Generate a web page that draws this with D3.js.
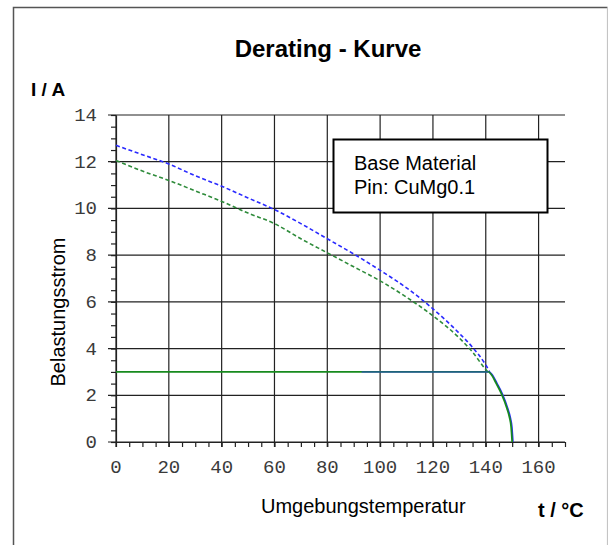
<!DOCTYPE html>
<html>
<head>
<meta charset="utf-8">
<script src="https://d3js.org/d3.v7.min.js"></script>
<style>
  body { margin: 0; background: #fff; }
  svg { display: block; }
  .axis path, .axis line { stroke: #222; stroke-width: 1.2; }
</style>
</head>
<body>
<svg id="chart" width="608" height="545"></svg>
<script>
// tick labels
var xTicks = [0, 20, 40, 60, 80, 100, 120, 140, 160];
var yTicks = [0, 2, 4, 6, 8, 10, 12, 14];

// dashed curves (temperature / current)
var blueTemp = [0, 10, 20, 30, 40, 50, 60, 70, 80, 90, 100, 110, 120, 130, 135, 140, 141.5];
var blueCurrent = [12.7, 12.3, 11.9, 11.4, 10.95, 10.45, 9.95, 9.35, 8.7, 8.05, 7.35, 6.6, 5.7, 4.65, 4.05, 3.3, 3.0];
var greenTemp = [0, 10, 20, 30, 40, 50, 60, 70, 80, 90, 100, 110, 120, 130, 135, 140, 140.8];
var greenCurrent = [12.05, 11.6, 11.2, 10.75, 10.3, 9.8, 9.35, 8.7, 8.1, 7.5, 6.9, 6.2, 5.4, 4.45, 3.85, 3.1, 3.0];

// solid 3 A limit and the tail down to 150 degC
var limitTemp = [0, 141];
var limitCurrent = [3, 3];
var overlapTemp = [93, 141];
var overlapCurrent = [3, 3];
var tailTemp = [141, 142, 144, 146, 148, 149, 149.6, 150];
var tailCurrent = [3.0, 2.9, 2.5, 2.05, 1.45, 1.05, 0.65, 0];

var legendLines = ['Base Material', 'Pin: CuMg0.1'];

var svg = d3.select('#chart');

var xScale = d3.scaleLinear().domain([0, 170]).range([116, 565]);
var yScale = d3.scaleLinear().domain([0, 14]).range([442, 115]);

// frame round the whole picture
svg.append('path')
    .attr('d', 'M13.5,545V7.5H607.5')
    .attr('fill', 'none')
    .attr('stroke', '#555')
    .attr('stroke-width', 1.5);
svg.append('line')
    .attr('x1', 607.5).attr('x2', 607.5)
    .attr('y1', 7.5).attr('y2', 545)
    .attr('stroke', '#c4c4c4')
    .attr('stroke-width', 1.2);

// title and axis names
svg.append('text')
    .attr('x', 328).attr('y', 57)
    .attr('text-anchor', 'middle')
    .style('font', 'bold 24px "Liberation Sans", Arial, sans-serif')
    .text('Derating - Kurve');

svg.append('text')
    .attr('x', 31).attr('y', 96)
    .style('font', 'bold 19px "Liberation Sans", Arial, sans-serif')
    .text('I / A');

svg.append('text')
    .attr('transform', 'translate(65,312) rotate(-90)')
    .attr('text-anchor', 'middle')
    .style('font', '20px "Liberation Sans", Arial, sans-serif')
    .text('Belastungsstrom');

svg.append('text')
    .attr('x', 261).attr('y', 512.5)
    .style('font', '20px "Liberation Sans", Arial, sans-serif')
    .text('Umgebungstemperatur');

svg.append('text')
    .attr('x', 538).attr('y', 516.5)
    .style('font', 'bold 20px "Liberation Sans", Arial, sans-serif')
    .text('t / °C');

// minor ticks
svg.append('g')
    .attr('class', 'axis')
    .attr('transform', 'translate(0,442)')
    .call(d3.axisBottom(xScale).tickValues(d3.range(0, 171, 5)).tickSize(5).tickSizeOuter(0).tickFormat(''));

svg.append('g')
    .attr('class', 'axis')
    .attr('transform', 'translate(116,0)')
    .call(d3.axisLeft(yScale).tickValues(d3.range(0, 14.01, 0.5)).tickSize(5).tickSizeOuter(0).tickFormat(''));

// grid
svg.selectAll('.vgrid')
    .data(xTicks)
    .enter()
    .append('line')
    .attr('class', 'vgrid')
    .attr('x1', function(d) { return xScale(d); })
    .attr('x2', function(d) { return xScale(d); })
    .attr('y1', yScale(14))
    .attr('y2', yScale(0) + 5)
    .attr('stroke', '#222')
    .attr('stroke-width', 1.2);

svg.selectAll('.hgrid')
    .data(yTicks)
    .enter()
    .append('line')
    .attr('class', 'hgrid')
    .attr('x1', xScale(0) - 8)
    .attr('x2', xScale(170))
    .attr('y1', function(d) { return yScale(d); })
    .attr('y2', function(d) { return yScale(d); })
    .attr('stroke', '#222')
    .attr('stroke-width', 1.2);

// tick labels
svg.selectAll('.xlabel')
    .data(xTicks)
    .enter()
    .append('text')
    .attr('class', 'xlabel')
    .attr('x', function(d) { return xScale(d); })
    .attr('y', 472.5)
    .attr('text-anchor', 'middle')
    .style('font', '19px "Liberation Mono", "Courier New", monospace')
    .style('fill', '#3a3a3a')
    .text(function(d) { return d; });

svg.selectAll('.ylabel')
    .data(yTicks)
    .enter()
    .append('text')
    .attr('class', 'ylabel')
    .attr('x', 97)
    .attr('y', function(d) { return yScale(d) + 6; })
    .attr('text-anchor', 'end')
    .style('font', '19px "Liberation Mono", "Courier New", monospace')
    .style('fill', '#3a3a3a')
    .text(function(d) { return d; });

// curves
var line = d3.line()
    .x(function(d) { return xScale(d[0]); })
    .y(function(d) { return yScale(d[1]); })
    .curve(d3.curveMonotoneX);

function pairs(xs, ys) {
    return xs.map(function(x, i) { return [x, ys[i]]; });
}

svg.append('path')
    .datum(pairs(blueTemp, blueCurrent))
    .attr('d', line)
    .attr('fill', 'none')
    .attr('stroke', '#2a2aff')
    .attr('stroke-width', 1.6)
    .attr('stroke-dasharray', '4,2.6');

svg.append('path')
    .datum(pairs(greenTemp, greenCurrent))
    .attr('d', line)
    .attr('fill', 'none')
    .attr('stroke', '#2e8b3a')
    .attr('stroke-width', 1.6)
    .attr('stroke-dasharray', '4,2.6');

// blue tail sits just under the green one
svg.append('path')
    .datum(pairs(tailTemp, tailCurrent))
    .attr('d', line)
    .attr('transform', 'translate(0.8,0)')
    .attr('fill', 'none')
    .attr('stroke', '#2a2aff')
    .attr('stroke-width', 1.6);

svg.append('path')
    .datum(pairs(limitTemp, limitCurrent).concat(pairs(tailTemp, tailCurrent).slice(1)))
    .attr('d', d3.line()
        .x(function(d) { return xScale(d[0]); })
        .y(function(d) { return yScale(d[1]); })
        .curve(d3.curveMonotoneX))
    .attr('fill', 'none')
    .attr('stroke', '#178a1e')
    .attr('stroke-width', 1.8);

svg.append('path')
    .datum(pairs(overlapTemp, overlapCurrent))
    .attr('d', line)
    .attr('fill', 'none')
    .attr('stroke', '#2a2aff')
    .attr('stroke-opacity', 0.4)
    .attr('stroke-width', 2);

// legend box
svg.append('rect')
    .attr('x', 333.5).attr('y', 139.5)
    .attr('width', 214).attr('height', 73)
    .attr('fill', '#fff')
    .attr('stroke', '#000')
    .attr('stroke-width', 2);

svg.selectAll('.legendText')
    .data(legendLines)
    .enter()
    .append('text')
    .attr('class', 'legendText')
    .attr('x', 354)
    .attr('y', function(d, i) { return 170 + i * 24; })
    .style('font', '20px "Liberation Sans", Arial, sans-serif')
    .text(function(d) { return d; });
</script>
</body>
</html>
